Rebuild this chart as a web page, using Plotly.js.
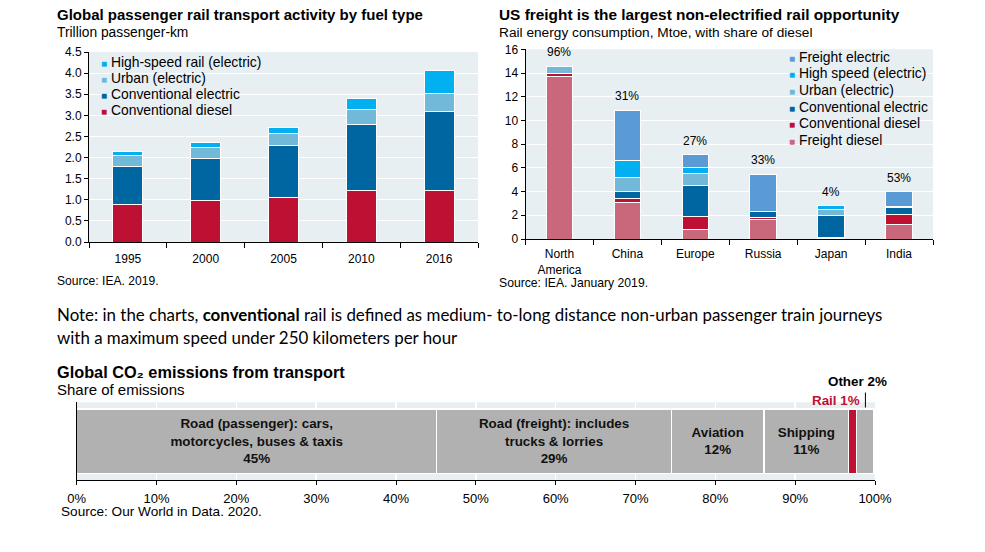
<!DOCTYPE html>
<html><head><meta charset="utf-8">
<script src="https://cdn.plot.ly/plotly-3.0.1.min.js"></script>
<style>html,body{margin:0;padding:0;background:#fff}#chart{width:985px;height:552px}</style>
</head><body><div id="chart"></div>
<script>
// ---- Panel 1: Global passenger rail transport activity (trillion passenger-km)
const years = ['1995', '2000', '2005', '2010', '2016'];
const p1ConvDiesel   = [0.90, 0.98, 1.05, 1.21, 1.23];
const p1ConvElectric = [0.90, 1.00, 1.23, 1.58, 1.87];
const p1Urban        = [0.26, 0.27, 0.29, 0.35, 0.42];
const p1HighSpeed    = [0.08, 0.11, 0.14, 0.26, 0.54];
const p1Names = ['High-speed rail (electric)', 'Urban (electric)', 'Conventional electric', 'Conventional diesel'];

// ---- Panel 2: Rail energy consumption (Mtoe)
const regions = ['North<br>America', 'China', 'Europe', 'Russia', 'Japan', 'India'];
const p2FreightDiesel   = [13.70, 3.05, 0.82, 1.66, 0.05, 1.20];
const p2ConvDiesel      = [0.30, 0.35, 1.09, 0.17, 0.05, 0.88];
const p2ConvElectric    = [0.00, 0.60, 2.59, 0.45, 1.90, 0.60];
const p2Urban           = [0.55, 1.20, 1.04, 0.00, 0.50, 0.10];
const p2HighSpeed       = [0.00, 1.40, 0.48, 0.00, 0.30, 0.00];
const p2FreightElectric = [0.00, 4.28, 1.09, 3.20, 0.00, 1.22];
const p2DieselShare = ['96%', '31%', '27%', '33%', '4%', '53%'];
const p2Names = ['Freight electric', 'High speed (electric)', 'Urban (electric)', 'Conventional electric', 'Conventional diesel', 'Freight diesel'];

// ---- Panel 3: Global CO2 emissions from transport (share, %)
const modes = ['Road (passenger): cars,<br>motorcycles, buses & taxis', 'Road (freight): includes<br>trucks & lorries', 'Aviation', 'Shipping', 'Rail', 'Other'];
const shares = [45.1, 29.4, 11.6, 10.6, 1.0, 2.2];
const shareLabels = ['45%', '29%', '12%', '11%', '1%', '2%'];

// ---- styling
const FONT = 'Liberation Sans, Arial, sans-serif';
const C = {
  hs: '#00B0F0', urban: '#72B9D9', convE: '#0066A1', convD: '#BE1033',
  freightE: '#5B9BD5', freightD: '#C9677B', gray: '#B1B1B1', bg: '#E7EFF3'
};
const W = 985, H = 552;
const px = v => v / W, py = v => 1 - v / H;

const traces = [];
function bar1(y, color, name) {
  traces.push({type: 'bar', x: years, y: y, name: name, xaxis: 'x', yaxis: 'y', width: 0.385,
    marker: {color: color, line: {color: '#fff', width: 1}}, showlegend: false, hoverinfo: 'y+name'});
}
bar1(p1ConvDiesel, C.convD, p1Names[3]);
bar1(p1ConvElectric, C.convE, p1Names[2]);
bar1(p1Urban, C.urban, p1Names[1]);
bar1(p1HighSpeed, C.hs, p1Names[0]);

function bar2(y, color, name) {
  traces.push({type: 'bar', x: regions, y: y, name: name, xaxis: 'x2', yaxis: 'y2', width: 0.39,
    marker: {color: color, line: {color: '#fff', width: 1}}, showlegend: false, hoverinfo: 'y+name'});
}
bar2(p2FreightDiesel, C.freightD, p2Names[5]);
bar2(p2ConvDiesel, C.convD, p2Names[4]);
bar2(p2ConvElectric, C.convE, p2Names[3]);
bar2(p2Urban, C.urban, p2Names[2]);
bar2(p2HighSpeed, C.hs, p2Names[1]);
bar2(p2FreightElectric, C.freightE, p2Names[0]);

const p3Colors = [C.gray, C.gray, C.gray, C.gray, C.convD, C.gray];
modes.forEach((m, i) => {
  const t = {type: 'bar', orientation: 'h', x: [shares[i]], y: ['s'], xaxis: 'x3', yaxis: 'y3', width: 0.83,
    name: m.replace('<br>', ' '), showlegend: false,
    marker: {color: p3Colors[i], line: {color: '#fff', width: 1.5}}, hoverinfo: 'x+name'};
  if (i < 4) {
    Object.assign(t, {text: ['<b>' + m + '<br>' + shareLabels[i] + '</b>'], textposition: 'inside',
      insidetextanchor: 'middle', textangle: 0, constraintext: 'none',
      textfont: {family: FONT, size: 13.4, color: '#111'}});
  } else {
    t.textposition = 'none';
  }
  traces.push(t);
});

const annotations = [];
function txt(x, y, text, size, opts) {
  annotations.push(Object.assign({xref: 'paper', yref: 'paper', x: px(x), y: py(y), text: text,
    showarrow: false, xanchor: 'left', yanchor: 'middle', font: {family: FONT, size: size, color: '#000'}}, opts || {}));
}
// titles
txt(55, 14, '<b>Global passenger rail transport activity by fuel type</b>', 15);
txt(55, 32, 'Trillion passenger-km', 13.8);
txt(55, 281, 'Source: IEA. 2019.', 12.1);
txt(497, 14, '<b>US freight is the largest non-electrified rail opportunity</b>', 15.4);
txt(497, 32, 'Rail energy consumption, Mtoe, with share of diesel', 13.7);
txt(497, 283, 'Source: IEA. January 2019.', 12.2);
txt(55, 372, '<b>Global CO\u2082 emissions from transport</b>', 16.3);
txt(55, 389, 'Share of emissions', 15);
txt(59, 511, 'Source: Our World in Data. 2020.', 13.6);

// note
const NOTEFONT = 'Lato, Open Sans, sans-serif';
txt(55, 314, 'Note: in the charts, <b>conventional</b> rail is defined as medium- to-long distance non-urban passenger train journeys', 16.9, {font: {family: NOTEFONT, size: 16.9, color: '#000'}});
txt(55, 337, 'with a maximum speed under 250 kilometers per hour', 16.9, {font: {family: NOTEFONT, size: 16.9, color: '#000'}});

// legends (drawn as text rows with coloured squares)
const p1Colors = [C.hs, C.urban, C.convE, C.convD];
p1Names.forEach((n, i) => {
  txt(99, 62 + i * 16, '<span style="font-size:10px;color:' + p1Colors[i] + '">■</span> ' + n, 13.9);
});
const p2Colors = [C.freightE, C.hs, C.urban, C.convE, C.convD, C.freightD];
p2Names.forEach((n, i) => {
  txt(787, 56.7 + i * 16.65, '<span style="font-size:10px;color:' + p2Colors[i] + '">■</span> ' + n, 13.9);
});

// diesel share labels above panel 2 bars
regions.forEach((r, i) => {
  const tot = p2FreightDiesel[i] + p2ConvDiesel[i] + p2ConvElectric[i] + p2Urban[i] + p2HighSpeed[i] + p2FreightElectric[i];
  annotations.push({xref: 'x2', yref: 'y2', x: r, y: tot, text: p2DieselShare[i], showarrow: false,
    yanchor: 'bottom', yshift: 5, font: {family: FONT, size: 12, color: '#000'}});
});

// panel 3 callouts
const cum = shares.reduce((a, v, i) => { a.push((a[i - 1] || 0) + v); return a; }, []);
const otherMid = cum[4] + shares[5] / 2;
annotations.push({xref: 'paper', yref: 'paper', x: px(889), y: py(381), xanchor: 'right', yanchor: 'middle',
  text: '<b>Other ' + shareLabels[5] + '</b>', showarrow: false, font: {family: FONT, size: 13.4, color: '#000'}});
annotations.push({xref: 'paper', yref: 'paper', x: px(862), y: py(400), xanchor: 'right', yanchor: 'middle',
  text: '<b>Rail ' + shareLabels[4] + '</b>', showarrow: false, font: {family: FONT, size: 13.4, color: C.convD}});

const shapes = [{type: 'line', xref: 'x3', yref: 'paper', x0: otherMid, x1: otherMid, y0: py(392.5), y1: py(407.5),
  line: {color: '#000', width: 1}}];

const axBase = {showline: true, linecolor: '#000', linewidth: 1, ticks: 'outside', tickcolor: '#000',
  tickfont: {family: FONT, size: 12, color: '#000'}, zeroline: false, fixedrange: true};

const layout = {
  width: W, height: H, margin: {l: 0, r: 0, t: 0, b: 0}, paper_bgcolor: '#fff', plot_bgcolor: C.bg,
  barmode: 'stack', showlegend: false, font: {family: FONT, color: '#000'},
  xaxis: Object.assign({}, axBase, {domain: [px(89), px(478)], anchor: 'y', type: 'category',
    tickson: 'boundaries', ticklen: 5, ticklabelstandoff: 6, showgrid: false}),
  yaxis: Object.assign({}, axBase, {domain: [py(242), py(52)], anchor: 'x', range: [0, 4.5], dtick: 0.5,
    tickformat: '.1f', ticklen: 4, gridcolor: '#fff', gridwidth: 1}),
  xaxis2: Object.assign({}, axBase, {domain: [px(525.5), px(933)], anchor: 'y2', type: 'category',
    tickson: 'boundaries', ticklen: 5, ticklabelstandoff: 4, showgrid: false}),
  yaxis2: Object.assign({}, axBase, {domain: [py(239), py(49.3)], anchor: 'x2', range: [0, 16], dtick: 2,
    ticklen: 4, gridcolor: '#fff', gridwidth: 1}),
  xaxis3: Object.assign({}, axBase, {domain: [px(76.7), px(875)], anchor: 'y3', range: [0, 100], dtick: 10,
    ticksuffix: '%', ticklen: 4, ticklabelstandoff: 2, gridcolor: '#fff', gridwidth: 1.5,
    tickfont: {family: FONT, size: 13, color: '#000'}}),
  yaxis3: {domain: [py(480), py(402.3)], anchor: 'x3', type: 'category', range: [-0.5, 0.5], showline: true,
    linecolor: '#000', showticklabels: false, ticks: '', showgrid: false, zeroline: false, fixedrange: true},
  annotations: annotations, shapes: shapes
};

Plotly.newPlot('chart', traces, layout, {displayModeBar: false, staticPlot: true});
</script></body></html>
